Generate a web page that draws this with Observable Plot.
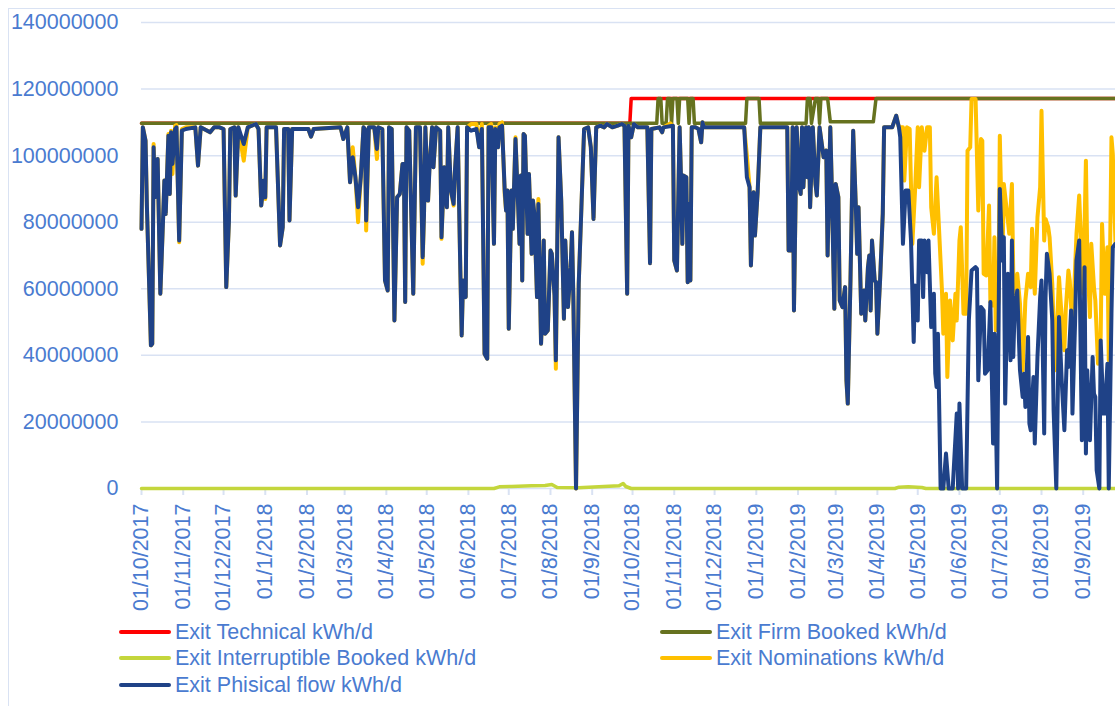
<!DOCTYPE html>
<html>
<head>
<meta charset="utf-8">
<script src="https://cdn.jsdelivr.net/npm/d3@7"></script>
<script src="https://cdn.jsdelivr.net/npm/@observablehq/plot@0.6"></script>
<style>
html,body{margin:0;padding:0;background:#fff;overflow:hidden;width:1115px;height:706px;}
#frame{position:absolute;left:8px;top:8px;width:1300px;height:900px;border-left:1.5px solid #d9e2f3;border-top:1.5px solid #d9e2f3;box-sizing:border-box;}
#chart{position:absolute;left:0;top:0;}
.lg{position:absolute;font-family:"Liberation Sans",Arial,sans-serif;font-size:21.5px;color:#4a7bd0;white-space:nowrap;line-height:22px;}
.sw{position:absolute;height:4px;width:52px;border-radius:2px;}
</style>
</head>
<body>
<div id="frame"></div>
<div id="chart"></div>
<div id="legend"></div>
<script>
// Day numbers counted from 01/10/2017; values in million kWh/d
const startDate = "2017-10-01";
const endDate = "2019-09-25";

const seriesNames = ["Exit Technical kWh/d","Exit Firm Booked kWh/d","Exit Interruptible Booked kWh/d","Exit Nominations kWh/d","Exit Phisical flow kWh/d"];
const seriesColors = ["#ff0000","#66721f","#c4d63c","#ffc000","#1f4287"];

const technical = [[0,109.7],[363,109.7],[364,117.2],[724,117.2]];

const firmBooked = [[0,109.7],[383,109.7],[384,117.2],[386,117.2],[387,109.7],[390,109.7],[391,117.2],[393,117.2],[394,109.7],[395,117.2],[398,117.2],[399,109.7],[400,117.2],[406,117.2],[407,109.7],[408,117.2],[410,117.2],[411,109.7],[449,109.7],[450,117.2],[459,117.2],[460,109.7],[494,109.7],[495,117.2],[497,117.2],[498,109.7],[501,117.2],[503,117.2],[504,109.7],[505,117.2],[510,117.2],[512,110.2],[544,110.2],[546,117.2],[724,117.2]];

const interruptible = [[0,0],[262,0],[266,0.5],[275,0.6],[290,0.8],[300,0.9],[305,1.2],[309,0.3],[325,0.2],[340,0.5],[355,0.8],[358,1.5],[360,0.6],[364,0],[560,0],[563,0.4],[570,0.5],[580,0.3],[583,0],[724,0]];

const nominations = [[0,78],[1,108.5],[3,104.5],[4,85],[7,43],[8,43.5],[9,103.5],[10,87.5],[12,99],[14,58.5],[16,80.5],[17,92.5],[18,82.5],[20,106.5],[21,88.5],[22,107.5],[23,94.5],[25,109],[26,109.2],[28,74],[30,108],[33,108.5],[40,108.5],[42,97],[44,108.5],[51,107],[54,108.5],[58,108.5],[61,108],[63,60.5],[65,80.5],[66,108],[69,108.5],[70,88],[72,108.5],[76,98.5],[79,108.5],[85,109.5],[87,108],[89,85],[91,92.5],[92,87],[93,108.5],[100,108.5],[103,73],[105,78.5],[106,108],[109,108],[110,80.5],[112,108],[124,108],[126,105.7],[128,108],[148,108.5],[150,105],[153,108.5],[155,92],[157,102.5],[159,93.5],[161,80],[163,93.5],[165,108.5],[166,108],[167,77.5],[169,108.5],[173,108.5],[175,99],[176,108.5],[179,108],[181,62.5],[183,59.5],[184,108.5],[186,108],[188,50.5],[190,87.5],[192,88.5],[194,97.5],[195,97.5],[196,56],[197,108.5],[199,107.5],[202,58.5],[204,108.5],[207,108.5],[209,67.5],[210,82.5],[211,108.5],[213,86.5],[214,96.5],[216,108.5],[217,96.5],[219,108.5],[222,107.5],[223,75],[225,96.5],[227,84.5],[228,108.5],[230,89.5],[232,85],[233,95.5],[235,108.5],[237,65.5],[238,46],[239,62.5],[241,57.5],[242,108.5],[245,109.5],[249,109.5],[251,102.5],[253,109.5],[255,40.5],[257,39],[258,109],[260,109.5],[262,73.5],[263,108.5],[265,102.5],[266,109.5],[268,110],[270,88],[271,83.5],[272,89.5],[273,48],[275,89.5],[276,78],[278,105.5],[280,84.5],[281,73.5],[282,94],[283,62.5],[284,106.5],[285,106],[287,76.5],[288,94.5],[290,70.5],[291,86.5],[292,82.5],[294,57.5],[295,87],[297,43.5],[298,54.5],[299,74.5],[300,46.5],[302,47.5],[304,71.5],[305,70.5],[307,58],[308,36],[310,105.5],[312,86.5],[314,51],[315,74.5],[317,54.5],[319,66.5],[320,77],[321,57.5],[323,0],[325,61.5],[327,84.5],[329,108],[332,108.5],[334,102.5],[336,81],[338,108.5],[341,109],[344,108.5],[346,109.5],[350,108.5],[354,109],[357,109.5],[359,109],[361,58.5],[362,109],[364,105.5],[366,109.5],[369,108.5],[376,108.5],[378,67.7],[379,108],[385,108.5],[387,107],[388,108.5],[393,109.7],[395,109],[396,68.5],[398,65.5],[400,108.5],[401,93.5],[402,73.5],[403,94],[405,93.5],[406,62],[407,85.5],[408,62.5],[409,108.5],[412,108.5],[414,108],[416,104],[417,110],[418,108.5],[448,108.5],[450,100],[452,90.5],[453,67],[455,89],[456,76],[458,89],[460,108.5],[480,108.5],[481,71.5],[483,71.5],[484,108.5],[485,53.5],[487,108.5],[489,90.5],[490,88.5],[491,108.5],[492,90.5],[494,108.5],[495,93.5],[496,108.5],[497,84.5],[499,108.5],[501,91.5],[502,88],[504,108.5],[506,102.5],[507,99.5],[509,101.5],[510,70],[512,108.5],[513,92.5],[515,54],[516,91.5],[518,87.5],[519,56.5],[521,54.5],[523,60.5],[524,32.5],[525,25.5],[527,62.5],[529,107.5],[531,84.5],[532,70.5],[533,84.5],[535,52.5],[537,59.5],[538,50.5],[540,66.5],[541,70],[542,53.5],[543,74.5],[545,62.5],[546,62],[547,46.5],[549,62.5],[551,82.5],[552,108.5],[558,108.5],[561,112],[563,108.5],[566,108.5],[567,92.5],[569,108.5],[571,108],[573,73.5],[575,89.5],[577,108.5],[578,90.5],[580,108.5],[582,101.5],[584,108.5],[586,108.5],[587,84.5],[589,76.5],[591,93.5],[593,76.5],[595,59.5],[596,46.5],[598,58.5],[599,33.5],[601,56.5],[603,44.5],[605,58.5],[606,50.5],[608,74.5],[609,78.5],[611,52.5],[613,52.5],[614,101.5],[616,102.5],[617,117],[620,117],[622,83.5],[624,105],[625,104.5],[626,64.5],[628,64],[630,85],[631,56],[633,55],[634,75.5],[635,47.5],[637,56.5],[638,106],[640,69.5],[641,91.5],[644,80.5],[645,76.5],[647,91.5],[648,64.5],[649,54.5],[651,64.5],[653,55.5],[655,35.5],[657,56.5],[659,64.5],[661,60.5],[662,78],[664,58.5],[666,81.5],[668,90.5],[669,113.5],[671,74.5],[672,81],[674,78.5],[675,75.5],[677,61.5],[679,35.5],[680,43.5],[682,63.5],[684,51.5],[686,41.5],[687,53.5],[689,65.5],[690,62.5],[692,46.5],[694,66.5],[695,76.5],[697,88],[698,78],[700,58.5],[702,98.5],[703,70.5],[705,51.5],[706,73.5],[708,60.5],[709,56.5],[711,37.5],[713,45.5],[714,79.5],[716,58.5],[718,72.5],[719,38.5],[721,105.5],[722,100.5],[724,73.5]];

const physical = [[0,78],[1,108.5],[3,104.5],[4,85],[7,43],[8,43.5],[9,102.5],[10,87.5],[12,99],[14,58.5],[16,80.5],[17,92.5],[18,82.5],[20,106],[21,88.5],[22,107],[23,97.5],[25,108],[26,108.5],[28,74.5],[30,107.5],[33,108],[40,108.5],[42,97],[44,108.5],[51,107],[54,108.5],[58,108.5],[61,108],[63,60.5],[65,80.5],[66,108],[69,108.5],[70,88],[72,108.5],[76,103.5],[79,108.5],[85,109.5],[87,108],[89,85],[91,92.5],[92,87.5],[93,108.5],[100,108.5],[103,73],[105,78.5],[106,108],[109,108],[110,80.5],[112,108],[124,108],[126,105.7],[128,108],[148,108.5],[150,105],[153,108.5],[155,92],[157,99.5],[159,93.5],[161,84.5],[163,93.5],[165,108.5],[166,108],[167,80.5],[169,108.5],[173,108.5],[175,102],[176,108.5],[179,108],[181,62.5],[183,59.5],[184,108.5],[186,108],[188,50.5],[190,87.5],[192,88.5],[194,97.5],[195,97.5],[196,56],[197,108.5],[199,107.5],[202,58.5],[204,108.5],[207,108.5],[209,69.5],[210,82.5],[211,108.5],[213,86.5],[214,95.5],[216,108.5],[217,96.5],[219,108.5],[222,107.5],[223,75.5],[225,96.5],[227,84.5],[228,108.5],[230,89.5],[232,85.5],[233,95.5],[235,108.5],[237,65.5],[238,46],[239,62.5],[241,57.5],[242,108.5],[245,107.5],[249,108],[251,102.5],[253,108],[255,40.5],[257,39],[258,108.5],[260,108.5],[262,73.5],[263,108],[265,102.5],[266,108.5],[268,109],[270,89.5],[271,83.5],[272,89.5],[273,48],[275,89.5],[276,78],[278,105],[280,84.5],[281,73.5],[282,94],[283,62.5],[284,106.5],[285,106],[287,76.5],[288,94.5],[290,70.5],[291,86.5],[292,82.5],[294,57.5],[295,85.5],[297,43.5],[298,54.5],[299,74.5],[300,46.5],[302,47.5],[304,71.5],[305,70.5],[307,58],[308,38.5],[310,105.5],[312,86.5],[314,51],[315,74.5],[317,54.5],[319,66.5],[320,77],[321,57.5],[323,0],[325,61.5],[327,84.5],[329,108],[332,108.5],[334,102.5],[336,81],[338,108.5],[341,109],[344,108.5],[346,109.5],[350,108.5],[354,109],[357,109.5],[359,109],[361,58.5],[362,109],[364,105.5],[366,109.5],[369,108.5],[376,108.5],[378,67.7],[379,108],[385,108.5],[387,107],[388,108.5],[395,109],[396,68.5],[398,65.5],[400,108.5],[401,93.5],[402,73.5],[403,94],[405,93.5],[406,62],[407,85.5],[408,62.5],[409,108.5],[412,108.5],[414,108],[416,104],[417,110],[418,108.5],[448,108.5],[450,93.5],[452,90.5],[453,67],[455,89],[456,76],[458,89],[460,108.5],[480,108.5],[481,71.5],[483,71.5],[484,108.5],[485,53.5],[487,108.5],[489,90.5],[490,88.5],[491,108.5],[492,90.5],[494,108.5],[495,93.5],[496,108.5],[497,84.5],[499,108.5],[501,91.5],[502,88],[504,108.5],[506,102.5],[507,99.5],[509,101.5],[510,70],[512,108.5],[513,92.5],[515,54],[516,91.5],[518,87.5],[519,56.5],[521,54.5],[523,60.5],[524,32.5],[525,25.5],[527,62.5],[529,107.5],[531,84.5],[532,70.5],[533,84.5],[535,52.5],[537,59.5],[538,50.5],[540,66.5],[541,70],[542,53.5],[543,74.5],[545,62.5],[546,62],[547,46.5],[549,62.5],[551,82.5],[552,108.5],[558,108.5],[561,112],[563,108.5],[564,105.5],[566,73.5],[568,89.5],[570,89.5],[572,74.5],[574,44],[575,61],[577,50.5],[578,74.5],[580,74.5],[581,57.5],[582,74.5],[584,65],[585,74.5],[587,48.5],[589,58.5],[590,34.5],[591,30.5],[592,46.5],[594,0],[596,0],[598,10.5],[600,0],[603,0],[606,22.5],[607,0],[608,25.5],[610,0],[613,0],[615,50.5],[617,65.5],[620,66.5],[621,66],[622,32.5],[624,54.5],[626,53.5],[627,34.5],[629,35.5],[631,56],[633,13.5],[634,46.5],[636,0],[638,90],[640,68.5],[641,75.5],[642,25.5],[644,64.5],[646,38.5],[647,74.5],[648,39.5],[649,53.5],[651,59.5],[653,35.5],[655,27.5],[656,34.5],[657,24.5],[659,45.5],[660,19.5],[661,17.5],[663,33.5],[664,13.5],[666,39.5],[668,57.5],[669,62.5],[671,16.5],[672,57.5],[673,70.5],[675,64.5],[677,50.5],[678,23.5],[680,0],[682,51.5],[684,32.5],[686,17.5],[688,41.5],[689,36.5],[691,53.5],[692,22.5],[694,50.5],[695,68.5],[697,74.5],[699,14.5],[701,66.5],[702,10.5],[703,35.5],[705,14.5],[707,39.5],[708,28.5],[709,27.5],[710,5.5],[712,0],[713,44.5],[715,22.5],[716,22.5],[718,37.5],[719,0],[721,52.5],[722,72.5],[724,73.5]];

const yTicks = [0,20000000,40000000,60000000,80000000,100000000,120000000,140000000];
const xTickDates = ["2017-10-01","2017-11-01","2017-12-01","2018-01-01","2018-02-01","2018-03-01","2018-04-01","2018-05-01","2018-06-01","2018-07-01","2018-08-01","2018-09-01","2018-10-01","2018-11-01","2018-12-01","2019-01-01","2019-02-01","2019-03-01","2019-04-01","2019-05-01","2019-06-01","2019-07-01","2019-08-01","2019-09-01"];
const xTickLabels = ["01/10/2017","01/11/2017","01/12/2017","01/1/2018","01/2/2018","01/3/2018","01/4/2018","01/5/2018","01/6/2018","01/7/2018","01/8/2018","01/9/2018","01/10/2018","01/11/2018","01/12/2018","01/1/2019","01/2/2019","01/3/2019","01/4/2019","01/5/2019","01/6/2019","01/7/2019","01/8/2019","01/9/2019"];

const t0 = new Date(startDate + "T00:00:00Z");
const toRows = (arr) => arr.map(([d, v]) => ({date: d3.utcDay.offset(t0, d), value: v * 1e6}));
const seriesData = [technical, firmBooked, interruptible, nominations, physical].map(toRows);
const widths = [3.5, 3.5, 3.5, 4, 4];
const tickDates = xTickDates.map(s => new Date(s + "T00:00:00Z"));
const textColor = "#4a7bd0";
const gridColor = "#d9e2f3";

const chart = Plot.plot({
  width: 1115,
  height: 615,
  marginLeft: 141,
  marginRight: 0,
  marginTop: 22,
  marginBottom: 127,
  style: {fontFamily: '"Liberation Sans", Arial, sans-serif', fontSize: "21.5px", background: "transparent", overflow: "visible"},
  x: {type: "utc", domain: [t0, new Date(endDate + "T00:00:00Z")]},
  y: {domain: [0, 140000000]},
  marks: [
    Plot.gridY(yTicks, {stroke: gridColor, strokeOpacity: 1, strokeWidth: 1.5}),
    Plot.axisY({ticks: yTicks, tickSize: 0, tickPadding: 23, tickFormat: d3.format("d"), fill: textColor, fontSize: 21.5, label: null}),
    Plot.axisX({ticks: tickDates, tickSize: 7, tickPadding: 8, tickRotate: -90, stroke: gridColor, strokeWidth: 2, strokeOpacity: 1,
      tickFormat: d => xTickLabels[tickDates.findIndex(t => +t === +d)], fill: textColor, fontSize: 21.5, label: null}),
    ...seriesData.map((rows, i) => Plot.line(rows, {x: "date", y: "value", stroke: seriesColors[i], strokeWidth: widths[i], strokeLinejoin: "round", strokeLinecap: "round"}))
  ]
});
document.getElementById("chart").appendChild(chart);

// legend
const legend = document.getElementById("legend");
const pos = [[119,632],[660,632],[119,658],[660,658],[119,685]];
seriesNames.forEach((name, i) => {
  const [x, y] = pos[i];
  const sw = document.createElement("div");
  sw.className = "sw";
  sw.style.left = x + "px"; sw.style.top = (y - 2) + "px"; sw.style.background = seriesColors[i];
  legend.appendChild(sw);
  const t = document.createElement("div");
  t.className = "lg";
  t.style.left = (x + 56) + "px"; t.style.top = (y - 11) + "px";
  t.textContent = name;
  legend.appendChild(t);
});
</script>
</body>
</html>
